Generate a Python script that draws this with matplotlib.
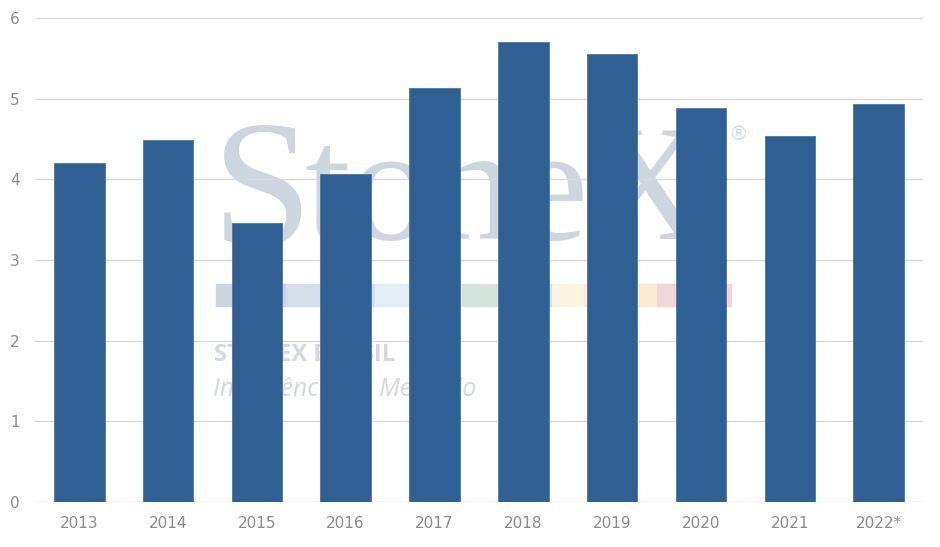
import numpy as np
import matplotlib.pyplot as plt
from matplotlib.patches import Rectangle

# valores
anos = ['2013', '2014', '2015', '2016', '2017', '2018', '2019', '2020', '2021', '2022*']
valores = [4.20, 4.49, 3.46, 4.07, 5.13, 5.70, 5.55, 4.88, 4.54, 4.94]
y_ticks = [0, 1, 2, 3, 4, 5, 6]

# faixa colorida da marca d'agua
faixa_cores = ['#CBD3DC', '#D5DDE8', '#E4EEF5', '#D3E2DA', '#FAF5DE', '#FDEBD0', '#F2D5D6']
faixa_lim = [216, 286, 375, 462, 552, 584, 657, 731]

bar_color = '#305F93'
txt_color = '#8A8A8A'

fig = plt.figure(figsize=(9.4, 5.47), dpi=100)
ax = fig.add_axes([0.037, 0.0823, 0.945, 0.8847])

x = np.arange(len(anos))
ax.bar(x, valores, width=0.57, color=bar_color, edgecolor='#4A76A8', linewidth=0.6, zorder=3)

ax.set_ylim(0, 6)
ax.set_xlim(-0.5, len(anos) - 0.5)
ax.set_yticks(y_ticks)
ax.set_xticks(x)
ax.set_xticklabels(anos)
ax.yaxis.grid(True, color='#D9D9D9', linewidth=1.0, zorder=0)
ax.set_axisbelow(True)
for s in ax.spines.values():
    s.set_visible(False)
ax.tick_params(axis='both', length=0, labelsize=11, colors=txt_color)
ax.tick_params(axis='x', pad=10)
ax.tick_params(axis='y', pad=11)

# ---- marca d'agua (coordenadas em pixels da figura) ----
W, H = 940, 547
def fx(px):
    return px / W
def fy(py):
    return 1 - py / H

wm = '#CDD5DE'
fig.text(fx(212), fy(244), 'S', family='Liberation Serif', fontsize=130,
         color=wm, va='baseline', ha='left', zorder=1)
fig.text(fx(304), fy(239), 'toneX', family='Liberation Serif', fontsize=119,
         color=wm, va='baseline', ha='left', zorder=1)
fig.text(fx(738), fy(135), '\u00ae', fontsize=14, color='#D3DAE2', ha='center', va='center', zorder=1)
for i in range(len(faixa_cores)):
    fig.patches.append(Rectangle((fx(faixa_lim[i]), fy(306)), fx(faixa_lim[i + 1] - faixa_lim[i]),
                                 22 / H, transform=fig.transFigure, color=faixa_cores[i], zorder=1))
fig.text(fx(214), fy(355), 'STONEX BRASIL', family='Open Sans', fontweight='bold', fontsize=17,
         color='#D3D8DE', ha='left', va='center', zorder=1)
fig.text(fx(213), fy(390), 'Intelig\u00eancia de Mercado', family='Open Sans', style='italic',
         fontsize=18, color='#D3D8DE', ha='left', va='center', zorder=1)

ax.set_zorder(2)
ax.patch.set_alpha(0)

fig.savefig('out.png', dpi=100)
